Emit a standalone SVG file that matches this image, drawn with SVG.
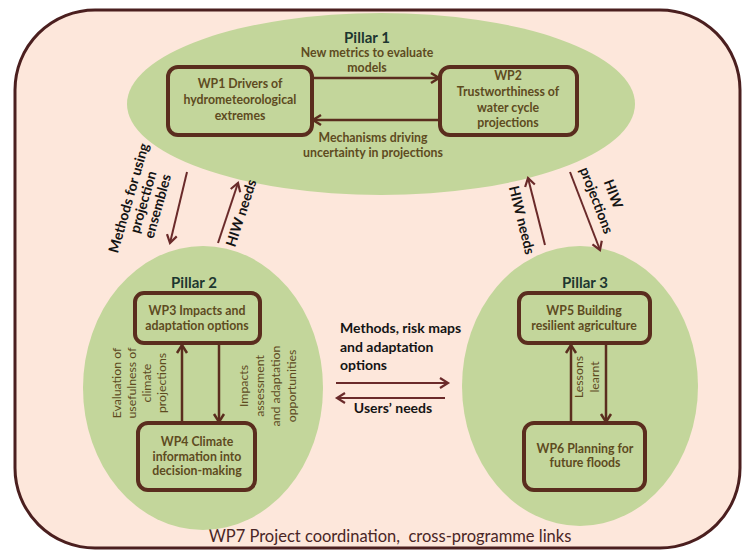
<svg xmlns="http://www.w3.org/2000/svg" width="745" height="551" viewBox="0 0 745 551">
<style>
.pil{fill:#c3d69b;stroke:none}
.box{fill:#c3d69b;stroke:#5a2d1e;stroke-width:4}
.t{font-family:Lato,"Open Sans","Liberation Sans",sans-serif}
.wp{font-size:12.3px;font-weight:bold;fill:#5e4b1f;text-anchor:middle}
.pl{font-size:15px;font-weight:bold;fill:#1d3630;text-anchor:middle}
.lab{font-size:12.3px;font-weight:bold;fill:#5e4b1f;text-anchor:middle}
.rot{font-size:12.3px;fill:#5e4b1f;text-anchor:middle}
.big{font-size:14px;font-weight:bold;fill:#141414}
.in{stroke:#5a2d1e;stroke-width:2.5;fill:none;marker-end:url(#ah)}
.out{stroke:#6a2a2a;stroke-width:2;fill:none;marker-end:url(#ah2)}
</style>
<defs>
<marker id="ah" markerUnits="userSpaceOnUse" markerWidth="14" markerHeight="14" refX="10" refY="6" orient="auto" overflow="visible">
<path d="M2,1 L10,6 L2,11" fill="none" stroke="#5a2d1e" stroke-width="2.5"/>
</marker>
<marker id="ah2" markerUnits="userSpaceOnUse" markerWidth="14" markerHeight="14" refX="10" refY="6" orient="auto" overflow="visible">
<path d="M2,1 L10,6 L2,11" fill="none" stroke="#6a2a2a" stroke-width="2.2"/>
</marker>
</defs>

<g id="frame">
<rect x="15" y="10" width="725" height="538" rx="80" ry="80" fill="#fde7db" stroke="#4b1f1f" stroke-width="3"/>
<text class="t" x="390" y="542" font-size="16.5" fill="#4a2626" text-anchor="middle" xml:space="preserve">WP7 Project coordination,  cross-programme links</text>
</g>

<g id="pillar1">
<ellipse class="pil" cx="381" cy="104" rx="254" ry="91"/>
<text class="t pl" x="367" y="43">Pillar 1</text>
</g>
<g id="pillar2">
<ellipse class="pil" cx="203" cy="388" rx="120" ry="142"/>
<text class="t pl" x="194" y="288">Pillar 2</text>
</g>
<g id="pillar3">
<ellipse class="pil" cx="580" cy="386" rx="118" ry="140"/>
<text class="t pl" x="585" y="288">Pillar 3</text>
</g>

<g id="wp1">
<rect class="box" x="168" y="67" width="144" height="68" rx="10"/>
<text class="t wp" x="240" y="88">WP1 Drivers of</text>
<text class="t wp" x="240" y="104">hydrometeorological</text>
<text class="t wp" x="240" y="120">extremes</text>
</g>
<g id="wp2">
<rect class="box" x="440" y="67" width="137" height="68" rx="10"/>
<text class="t wp" x="508" y="80">WP2</text>
<text class="t wp" x="508" y="96">Trustworthiness of</text>
<text class="t wp" x="508" y="112">water cycle</text>
<text class="t wp" x="508" y="127">projections</text>
</g>
<g id="wp3">
<rect class="box" x="135" y="293" width="125" height="50" rx="9"/>
<text class="t wp" x="197" y="315">WP3 Impacts and</text>
<text class="t wp" x="197" y="330">adaptation options</text>
</g>
<g id="wp4">
<rect class="box" x="138" y="423" width="117" height="67" rx="10"/>
<text class="t wp" x="197" y="446">WP4 Climate</text>
<text class="t wp" x="197" y="461">information into</text>
<text class="t wp" x="197" y="475">decision-making</text>
</g>
<g id="wp5">
<rect class="box" x="519" y="293" width="131" height="50" rx="9"/>
<text class="t wp" x="584" y="315">WP5 Building</text>
<text class="t wp" x="584" y="330">resilient agriculture</text>
</g>
<g id="wp6">
<rect class="box" x="524" y="423" width="121" height="67" rx="10"/>
<text class="t wp" x="585" y="453">WP6 Planning for</text>
<text class="t wp" x="585" y="467">future floods</text>
</g>

<g id="connectors">
<line class="in" x1="312" y1="78" x2="439" y2="78"/>
<line class="in" x1="440" y1="120" x2="313" y2="120"/>
<line class="in" x1="182" y1="423" x2="182" y2="345"/>
<line class="in" x1="219" y1="344" x2="219" y2="422"/>
<line class="in" x1="571" y1="423" x2="571" y2="345"/>
<line class="in" x1="606" y1="344" x2="606" y2="422"/>
<line class="out" x1="187" y1="172" x2="170" y2="243"/>
<line class="out" x1="218" y1="243" x2="238" y2="183"/>
<line class="out" x1="545" y1="245" x2="528" y2="178"/>
<line class="out" x1="570" y1="172" x2="600" y2="250"/>
<line class="out" x1="336" y1="383" x2="448" y2="383"/>
<line class="out" x1="445" y1="398" x2="337" y2="398"/>
</g>

<g id="labels">
<text class="t lab" x="367" y="57">New metrics to evaluate</text>
<text class="t lab" x="367" y="72">models</text>
<text class="t lab" x="373" y="142">Mechanisms driving</text>
<text class="t lab" x="373" y="157">uncertainty in projections</text>

<g transform="translate(140,383) rotate(-90)">
<text class="t rot" x="0" y="-19">Evaluation of</text>
<text class="t rot" x="0" y="-4">usefulness of</text>
<text class="t rot" x="0" y="11">climate</text>
<text class="t rot" x="0" y="26">projections</text>
</g>
<g transform="translate(268,386) rotate(-90)">
<text class="t rot" x="0" y="-20">Impacts</text>
<text class="t rot" x="0" y="-4">assessment</text>
<text class="t rot" x="0" y="12">and adaptation</text>
<text class="t rot" x="0" y="28">opportunities</text>
</g>
<g transform="translate(587,377) rotate(-90)">
<text class="t rot" x="0" y="-4">Lessons</text>
<text class="t rot" x="0" y="12">learnt</text>
</g>

<g transform="translate(143,202) rotate(-74)">
<text class="t big" x="0" y="-10" text-anchor="middle">Methods for using</text>
<text class="t big" x="0" y="5" text-anchor="middle">projection</text>
<text class="t big" x="0" y="20" text-anchor="middle">ensembles</text>
</g>
<g transform="translate(241,213) rotate(-72)">
<text class="t big" x="0" y="5" text-anchor="middle">HIW needs</text>
</g>
<g transform="translate(522,220) rotate(76)">
<text class="t big" x="0" y="5" text-anchor="middle">HIW needs</text>
</g>
<g transform="translate(605,197) rotate(69)">
<text class="t big" x="0" y="-4" text-anchor="middle">HIW</text>
<text class="t big" x="0" y="14" text-anchor="middle">projections</text>
</g>

<text class="t big" x="340" y="333">Methods, risk maps</text>
<text class="t big" x="340" y="352">and adaptation</text>
<text class="t big" x="340" y="370">options</text>
<text class="t big" x="393" y="413" text-anchor="middle">Users’ needs</text>
</g>
</svg>
